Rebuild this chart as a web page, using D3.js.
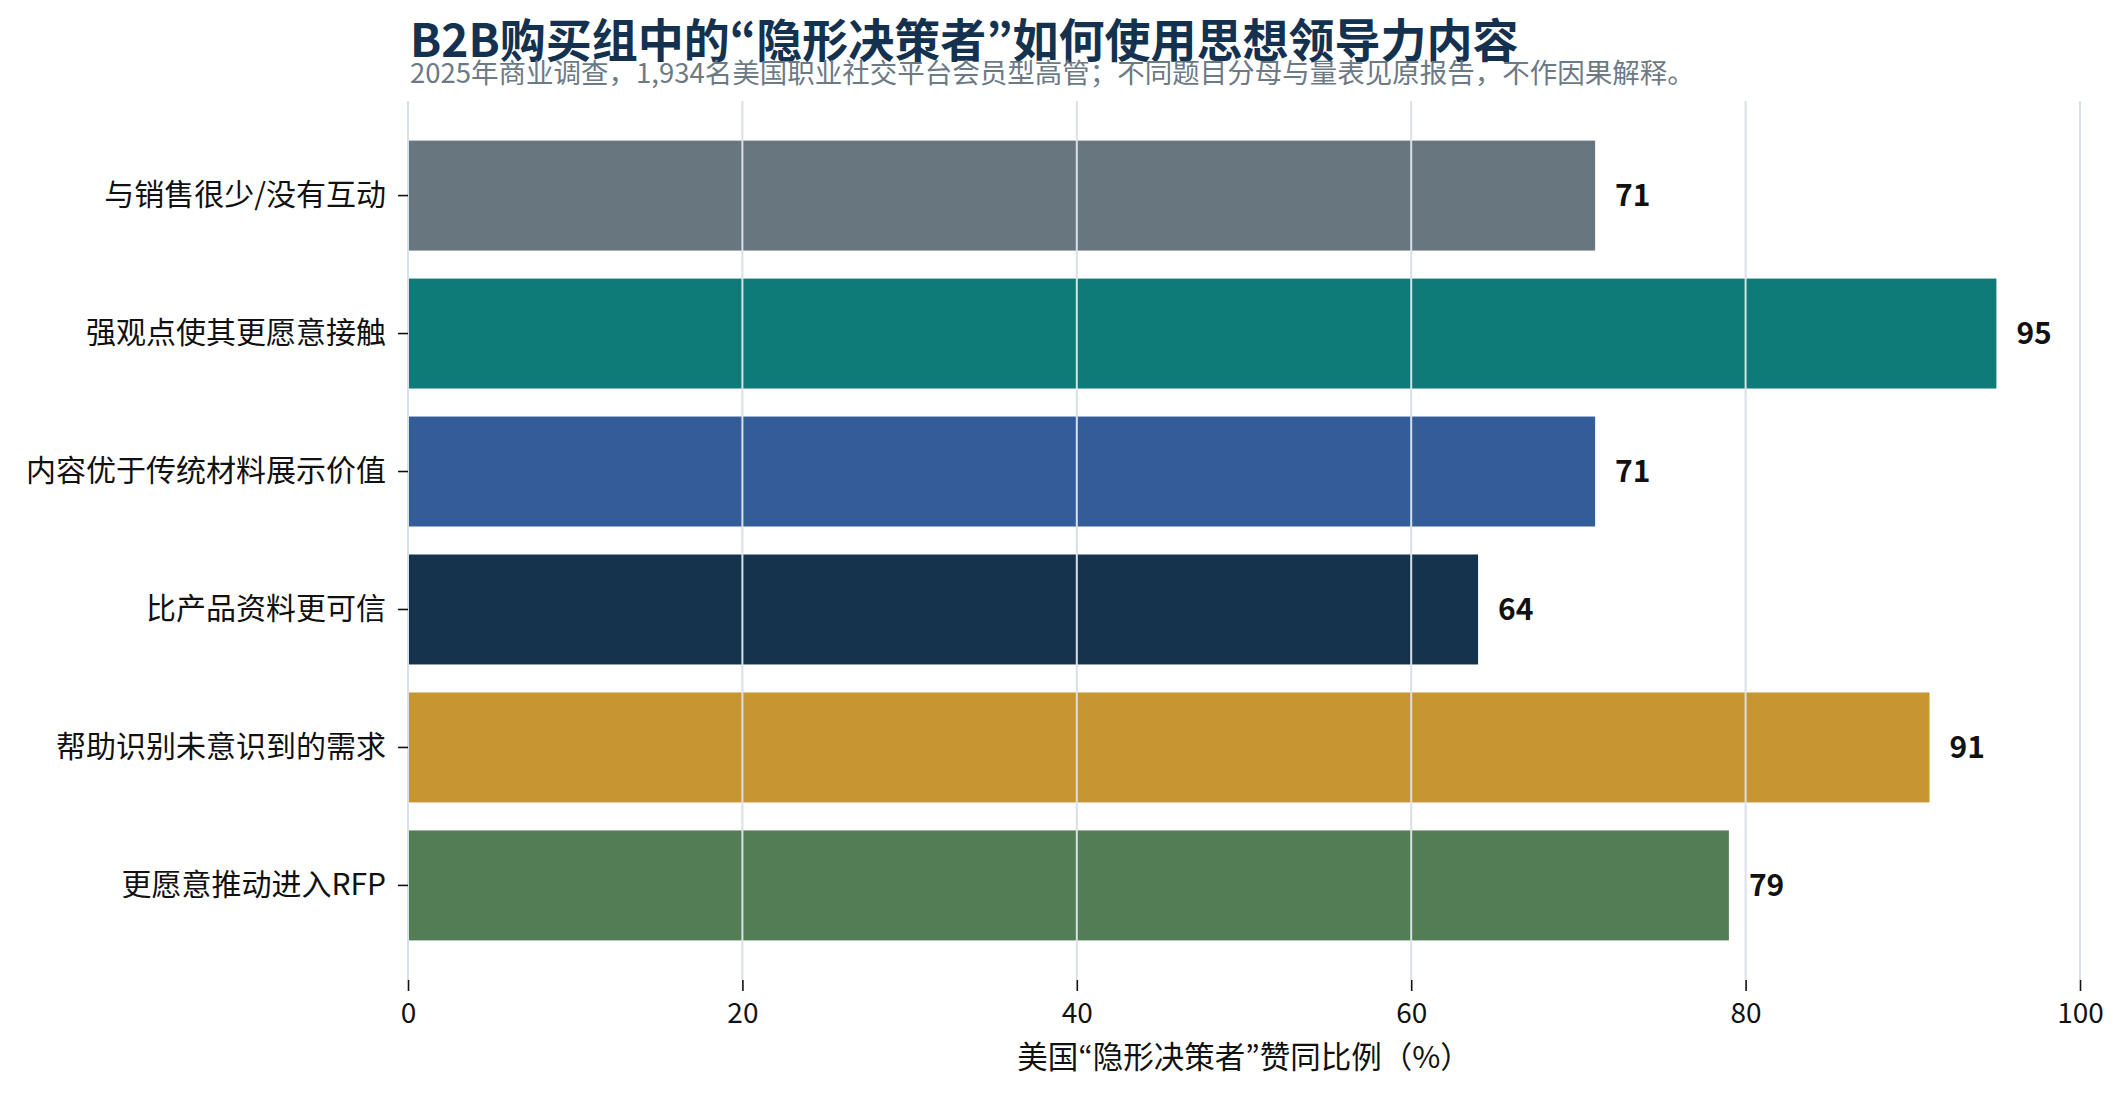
<!DOCTYPE html>
<html>
<head>
<meta charset="utf-8">
<script src="https://cdn.jsdelivr.net/npm/d3@7"></script>
<style>
  html, body { margin: 0; padding: 0; background: #ffffff; }
  svg { display: block; }
  text { font-family: "Noto Sans CJK SC", "Noto Sans", sans-serif; }
</style>
</head>
<body>
<svg id="chart" width="2127" height="1099"></svg>
<script>
const categories = [
  "与销售很少/没有互动",
  "强观点使其更愿意接触",
  "内容优于传统材料展示价值",
  "比产品资料更可信",
  "帮助识别未意识到的需求",
  "更愿意推动进入RFP"
];
const values = [71, 95, 71, 64, 91, 79];
const colors = ["#68767f", "#0f7b78", "#345c99", "#15334d", "#c79631", "#537d55"];
const xTicks = [0, 20, 40, 60, 80, 100];
const titleText = "B2B购买组中的“隐形决策者”如何使用思想领导力内容";
const subtitleText = "2025年商业调查，1,934名美国职业社交平台会员型高管；不同题目分母与量表见原报告，不作因果解释。";
const xAxisTitle = "美国“隐形决策者”赞同比例（%）";

const svg = d3.select("#chart");
const plot = { left: 408, right: 2080, top: 101, bottom: 980 };

// write text with proportional (Western-width) curly quotes
function richText(sel, str) {
  const parts = str.split(/([“”])/);
  parts.forEach(p => {
    if (!p) return;
    const t = sel.append("tspan").text(p);
    if (p === "“" || p === "”") t.attr("font-family", "'Noto Sans CJK JP', sans-serif");
  });
  return sel;
}

const x = d3.scaleLinear().domain([0, 100]).range([plot.left, plot.right]);
const y = d3.scaleBand().domain(categories).range([plot.top, plot.bottom])
  .paddingInner(0.203).paddingOuter(0.287);

// bars
svg.append("g").selectAll("rect")
  .data(categories)
  .join("rect")
  .attr("x", x(0))
  .attr("y", d => y(d))
  .attr("width", (d, i) => x(values[i]) - x(0))
  .attr("height", y.bandwidth())
  .attr("fill", (d, i) => colors[i]);

// grid lines (drawn over bars)
svg.append("g").selectAll("line")
  .data(xTicks)
  .join("line")
  .attr("x1", d => x(d)).attr("x2", d => x(d))
  .attr("y1", plot.top).attr("y2", plot.bottom)
  .attr("stroke", "#d8e0e8")
  .attr("stroke-width", 2);

// x axis
const xAxis = d3.axisBottom(x).tickValues(xTicks).tickSize(11).tickPadding(12).tickFormat(d3.format("d"));
const gx = svg.append("g").attr("transform", `translate(0,${plot.bottom})`).call(xAxis);
gx.select(".domain").remove();
gx.selectAll(".tick line").attr("stroke", "#111").attr("stroke-width", 1.6);
gx.selectAll(".tick text").attr("font-size", 28).attr("fill", "#111")
  .attr("font-family", "'Noto Sans CJK SC', sans-serif");

// y axis
const yAxis = d3.axisLeft(y).tickSize(10).tickPadding(12);
const gy = svg.append("g").attr("transform", `translate(${plot.left},0)`).call(yAxis);
gy.select(".domain").remove();
gy.selectAll(".tick line").attr("stroke", "#111").attr("stroke-width", 1.6);
gy.selectAll(".tick text").attr("font-size", 30).attr("fill", "#111")
  .attr("font-family", "'Noto Sans CJK SC', sans-serif");

// value labels
svg.append("g").selectAll("text")
  .data(categories)
  .join("text")
  .attr("x", (d, i) => x(values[i]) + 20)
  .attr("y", d => y(d) + y.bandwidth() / 2)
  .attr("dy", "0.35em")
  .attr("font-size", 30)
  .attr("font-weight", 700)
  .attr("fill", "#111")
  .text((d, i) => values[i]);

// title & subtitle
richText(svg.append("text")
  .attr("x", 410).attr("y", 57)
  .attr("font-size", 46).attr("font-weight", 700)
  .attr("fill", "#14324f"), titleText);
svg.append("text")
  .attr("x", 410).attr("y", 83)
  .attr("font-size", 27.5)
  .attr("fill", "#6c7a86")
  .text(subtitleText);

// x axis title
richText(svg.append("text")
  .attr("x", (plot.left + plot.right) / 2).attr("y", 1068)
  .attr("text-anchor", "middle")
  .attr("font-size", 30.5)
  .attr("fill", "#111"), xAxisTitle);
</script>
</body>
</html>
